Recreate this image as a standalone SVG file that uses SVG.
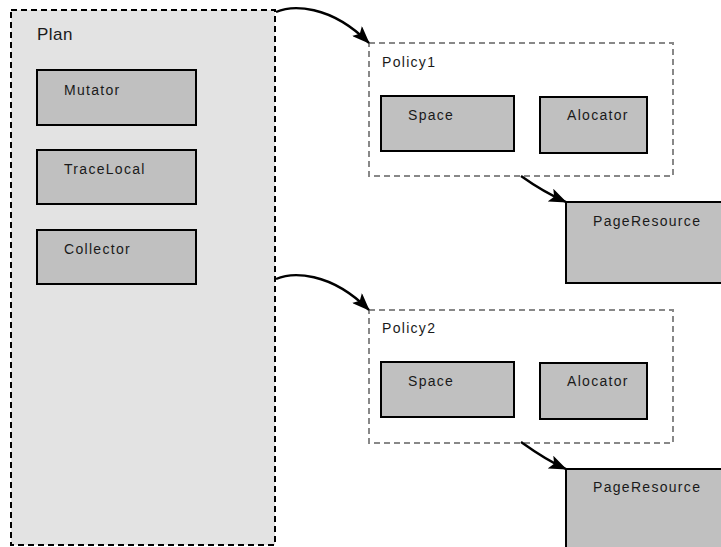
<svg xmlns="http://www.w3.org/2000/svg" width="721" height="547" viewBox="0 0 721 547">
  <style>
    .plan { fill: #e3e3e3; stroke: #000; stroke-width: 2; stroke-dasharray: 6 4; }
    .policy { fill: #fff; stroke: #888; stroke-width: 2; stroke-dasharray: 6 4; }
    .box { fill: #c0c0c0; stroke: #000; stroke-width: 2; }
    .lbl { font-family: "Liberation Sans", Arial, sans-serif; font-size: 14px; fill: #1a1a1a; letter-spacing: 1.3px; }
    .title { font-family: "Liberation Sans", Arial, sans-serif; font-size: 17px; fill: #1a1a1a; letter-spacing: 0.5px; }
    .edge { fill: none; stroke: #000; stroke-width: 2.4; marker-end: url(#arrow); }
  </style>
  <defs>
    <marker id="arrow" viewBox="0 0 18 14" refX="17" refY="7" markerWidth="18" markerHeight="14" markerUnits="userSpaceOnUse" orient="auto">
      <path d="M0,0 L18,7 L0,14 L4,7 z" fill="#000"/>
    </marker>
  </defs>

  <rect width="721" height="547" fill="#fff"/>

  <!-- Plan container -->
  <g id="plan">
    <rect class="plan" x="11" y="10" width="264" height="535"/>
    <text class="title" x="37" y="40">Plan</text>
  </g>
  <g id="mutator">
    <rect class="box" x="37" y="70" width="159" height="55"/>
    <text class="lbl" x="64" y="95">Mutator</text>
  </g>
  <g id="tracelocal">
    <rect class="box" x="37" y="150" width="159" height="54"/>
    <text class="lbl" x="64" y="174">TraceLocal</text>
  </g>
  <g id="collector">
    <rect class="box" x="37" y="230" width="159" height="54"/>
    <text class="lbl" x="64" y="254">Collector</text>
  </g>

  <!-- Policy 1 -->
  <g id="policy1">
    <rect class="policy" x="369" y="43" width="304" height="133"/>
    <text class="lbl" x="382" y="67">Policy1</text>
  </g>
  <g id="space1">
    <rect class="box" x="381" y="96" width="133" height="55"/>
    <text class="lbl" x="408" y="120">Space</text>
  </g>
  <g id="alocator1">
    <rect class="box" x="540" y="97" width="107" height="56"/>
    <text class="lbl" x="567" y="120">Alocator</text>
  </g>
  <g id="pageresource1">
    <rect class="box" x="566" y="202" width="160" height="81"/>
    <text class="lbl" x="593" y="226">PageResource</text>
  </g>

  <!-- Policy 2 -->
  <g id="policy2">
    <rect class="policy" x="369" y="310" width="304" height="133"/>
    <text class="lbl" x="382" y="333">Policy2</text>
  </g>
  <g id="space2">
    <rect class="box" x="381" y="362" width="133" height="55"/>
    <text class="lbl" x="408" y="386">Space</text>
  </g>
  <g id="alocator2">
    <rect class="box" x="540" y="363" width="107" height="56"/>
    <text class="lbl" x="567" y="386">Alocator</text>
  </g>
  <g id="pageresource2">
    <rect class="box" x="566" y="469" width="160" height="90"/>
    <text class="lbl" x="593" y="492">PageResource</text>
  </g>

  <!-- Connectors -->
  <g id="connectors">
    <path class="edge" d="M276,12 C292,5 330,4 369,43"/>
    <path class="edge" d="M276,279 C292,272 330,271 369,310"/>
    <path class="edge" d="M521,176 C535,186 548,194 566,202"/>
    <path class="edge" d="M521,442 C535,452 548,461 566,469"/>
  </g>
</svg>
